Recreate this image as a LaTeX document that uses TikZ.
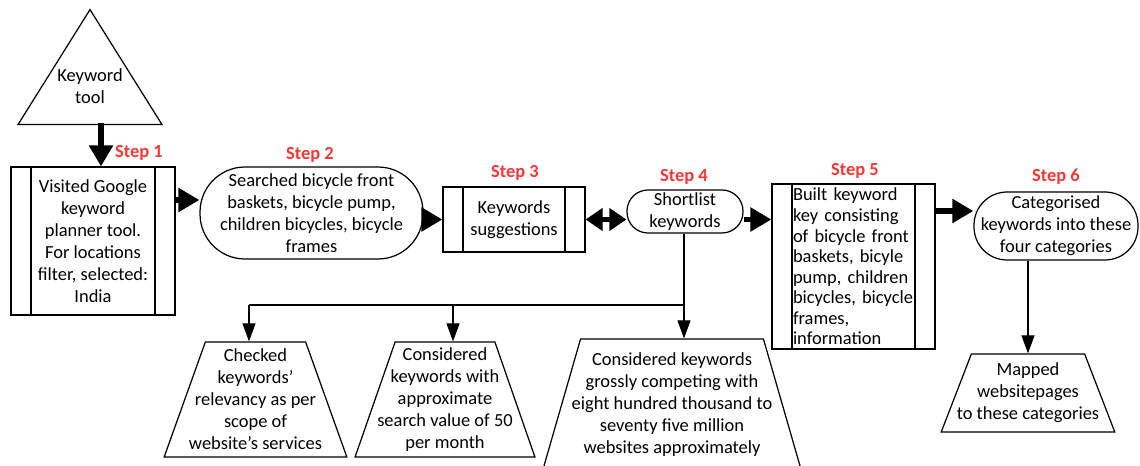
\documentclass[tikz,border=0pt]{standalone}
\usepackage{fontspec}
\setmainfont{Carlito}
\usetikzlibrary{arrows.meta,positioning,calc,shapes.geometric}
\definecolor{stepcol}{RGB}{250,55,55}

\begin{document}
\begin{tikzpicture}[
    x=0.02cm, y=-0.02cm,
    font=\fontsize{10.5}{12.5}\selectfont,
    procbox/.style={draw, line width=0.7pt, align=center, inner sep=0pt,
        path picture={
            \draw[line width=0.7pt] ([xshift=0.4cm]path picture bounding box.north west) -- ([xshift=0.4cm]path picture bounding box.south west);
            \draw[line width=0.7pt] ([xshift=-0.4cm]path picture bounding box.north east) -- ([xshift=-0.4cm]path picture bounding box.south east);
        }},
    stadium/.style={draw, line width=0.7pt, rounded corners=#1, align=center, inner sep=0pt},
    trapbox/.style={draw, line width=0.7pt, trapezium, trapezium stretches=true, align=center, inner xsep=-0.5cm, inner ysep=0pt},
    steplabel/.style={font=\fontsize{10.5}{12}\selectfont\bfseries, text=stepcol},
    steparrow/.style={-{Triangle[length=0.42cm,width=0.46cm]}, line width=0.12cm},
    dblarrow/.style={{Triangle[length=0.34cm,width=0.44cm]}-{Triangle[length=0.34cm,width=0.44cm]}, line width=0.12cm},
    thinline/.style={line width=0.6pt},
    thinarrow/.style={-{Triangle[length=0.36cm,width=0.26cm]}, line width=0.6pt},
]
\useasboundingbox (0,0) rectangle (1140,466);

% source
\node[draw, line width=0.7pt, isosceles triangle, shape border rotate=90, isosceles triangle stretches,
      minimum width=2.88cm, minimum height=2.3cm, inner sep=0pt, anchor=apex] (kwtool) at (90,8) {};
\node[align=center, inner sep=0pt] (kwtext) at (90,86) {Keyword\\tool};
\coordinate (toolfoot) at (101,123);

% main steps
\node[procbox, minimum width=3.28cm, minimum height=2.96cm] (box1) at (93,241) {Visited Google\\keyword\\planner tool.\\For locations\\filter, selected:\\India};
\node[stadium=0.9cm, minimum width=4.46cm, minimum height=1.84cm] (box2) at (311.5,213) {Searched bicycle front\\baskets, bicycle pump,\\children bicycles, bicycle\\frames};
\node[procbox, minimum width=2.84cm, minimum height=1.3cm] (box3) at (514,219.5) {Keywords\\suggestions};
\node[stadium=0.42cm, minimum width=2.32cm, minimum height=0.86cm] (box4) at (685,211.5) {Shortlist\\keywords};
\node[procbox, minimum width=3.26cm, minimum height=3.3cm, text width=2.42cm, align=left,
      font=\fontsize{10.5}{11.7}\selectfont] (box5) at (853.5,266.5) {Built keyword\\key consisting\\of bicycle front\\baskets, bicyle\\pump, children\\bicycles, bicycle\\frames,\\information};
\node[stadium=0.66cm, minimum width=3.28cm, minimum height=1.36cm] (box6) at (1056,226) {Categorised\\keywords into these\\four categories};

\node[steplabel] (step1) at (139,153) {Step 1};
\node[steplabel] (step2) at (310,155) {Step 2};
\node[steplabel] (step3) at (515,173) {Step 3};
\node[steplabel] (step4) at (684,177) {Step 4};
\node[steplabel] (step5) at (855,171) {Step 5};
\node[steplabel] (step6) at (1056,177) {Step 6};

% outcomes
\node[trapbox, trapezium left angle=71.3, trapezium right angle=71.3, minimum width=3.66cm, minimum height=2.3cm] (trap1) at (255.5,399.5) {Checked\\keywords’\\relevancy as per\\scope of\\website’s services};
\node[trapbox, trapezium left angle=71.7, trapezium right angle=71.7, minimum width=3.6cm, minimum height=2.3cm] (trap2) at (445,399.5) {Considered\\keywords with\\approximate\\search value of 50\\per month};
\node[trapbox, trapezium left angle=73.3, trapezium right angle=73.3, minimum width=5.17cm, minimum height=2.62cm] (trap3) at (672,404.5) {Considered keywords\\grossly competing with\\eight hundred thousand to\\seventy five million\\websites approximately};
\node[trapbox, trapezium left angle=67.7, trapezium right angle=67.7, minimum width=3.48cm, minimum height=1.56cm] (trap4) at (1028,393) {Mapped\\websitepages\\to these categories};

\coordinate (a12) at ([yshift=0.82cm]box1.east);
\coordinate (a56) at ([yshift=0.3cm]box6.west);
\coordinate (fork1) at (249,305);
\coordinate (fork2) at (453,305);
\coordinate (fork3) at (684,305);

\draw[steparrow] (toolfoot) -- (toolfoot |- box1.north);
\draw[steparrow] (a12) -- (a12 -| box2.west);
\draw[steparrow] (box2.east |- box3.west) -- (box3.west);
\draw[dblarrow] (box3.east) -- (box3.east -| box4.west);
\draw[steparrow] (box4.east |- box3.east) -- (box5.west |- box3.east);
\draw[steparrow] (a56 -| box5.east) -- (a56);

\draw[thinarrow] (box4.south -| fork3) -- (fork3 |- trap3.north);
\draw[thinline] (fork3) -- (fork1);
\draw[thinarrow] (fork1) -- (fork1 |- trap1.north);
\draw[thinarrow] (fork2) -- (fork2 |- trap2.north);
\draw[thinarrow] (trap4.north |- box6.south) -- (trap4.north);
\end{tikzpicture}
\end{document}
